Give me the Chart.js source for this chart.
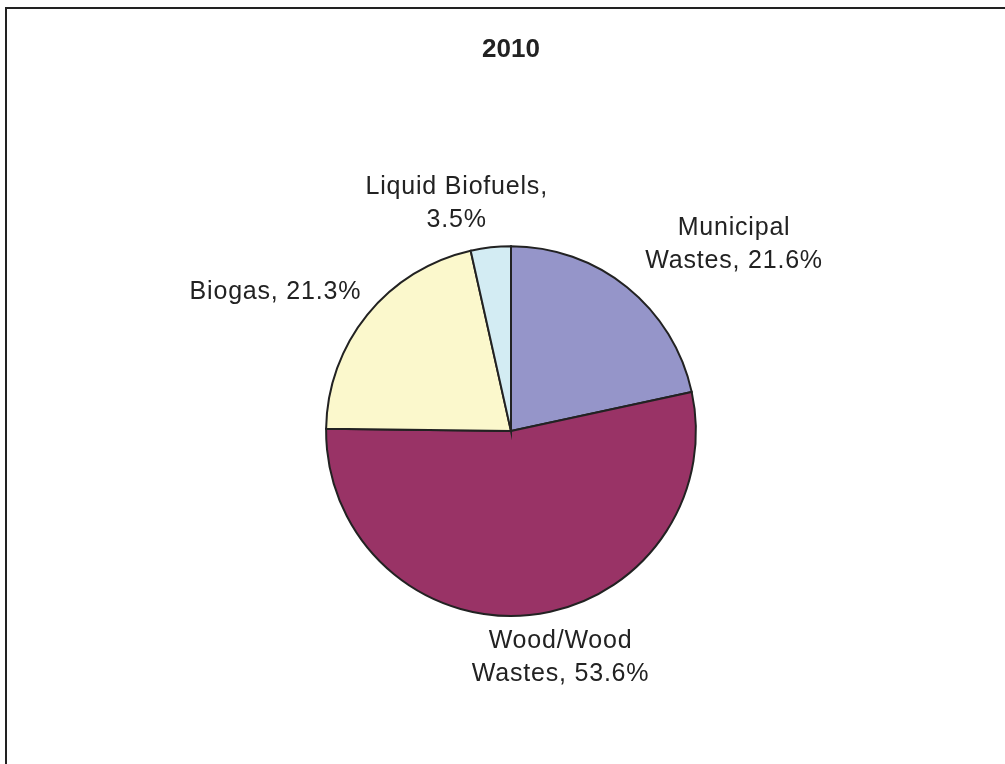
<!DOCTYPE html>
<html>
<head>
<meta charset="utf-8">
<title>2010</title>
<script src="https://cdn.jsdelivr.net/npm/chart.js@4/dist/chart.umd.min.js"></script>
<style>
  html, body { margin: 0; padding: 0; background: #fff; overflow: hidden; }
  #biomassChart { display: block; }
</style>
</head>
<body>
<canvas id="biomassChart" width="1005" height="764"></canvas>
<script>
// Biomass consumption shares, 2010
const chartTitle = '2010';
const sources = ['Municipal Wastes', 'Wood/Wood Wastes', 'Biogas', 'Liquid Biofuels'];
const shares = [21.6, 53.6, 21.3, 3.5];
// how each label is broken over lines
const labelLines = [
    ['Municipal', 'Wastes, 21.6%'],
    ['Wood/Wood', 'Wastes, 53.6%'],
    ['Biogas, 21.3%'],
    ['Liquid Biofuels,', '3.5%']
];

const sliceColors = ['#9595C9', '#993366', '#FBF8CC', '#D3ECF3'];
// nudge of each label block away from the slice's outer edge (px)
const labelShift = [[107, -43], [31, 43], [-92, -22], [-34, -44]];

const frame = {
    id: 'frame',
    beforeDraw(chart) {
        const ctx = chart.ctx;
        ctx.save();
        ctx.fillStyle = '#fff';
        ctx.fillRect(0, 0, chart.width, chart.height);
        ctx.strokeStyle = '#222';
        ctx.lineWidth = 2;
        ctx.strokeRect(6, 8, chart.width + 40, chart.height + 40);
        ctx.restore();
    }
};

const outsideLabels = {
    id: 'outsideLabels',
    afterDatasetsDraw(chart) {
        const ctx = chart.ctx;
        const meta = chart.getDatasetMeta(0);
        ctx.save();
        ctx.font = '25px "Liberation Sans", Arial, sans-serif';
        ctx.letterSpacing = '0.8px';
        ctx.fillStyle = '#222';
        ctx.textAlign = 'center';
        ctx.textBaseline = 'middle';
        const lineH = 33;
        meta.data.forEach((arc, i) => {
            const p = arc.getProps(['x', 'y', 'startAngle', 'endAngle', 'outerRadius'], true);
            const mid = (p.startAngle + p.endAngle) / 2;
            const ax = p.x + Math.cos(mid) * p.outerRadius + labelShift[i][0];
            const ay = p.y + Math.sin(mid) * p.outerRadius + labelShift[i][1];
            const lines = labelLines[i];
            const top = ay - (lines.length - 1) * lineH / 2;
            lines.forEach((t, k) => ctx.fillText(t, ax, top + k * lineH));
        });
        ctx.restore();
    }
};

new Chart(document.getElementById('biomassChart'), {
    type: 'pie',
    data: {
        labels: sources,
        datasets: [{
            data: shares,
            backgroundColor: sliceColors,
            borderColor: '#222',
            borderWidth: 2,
            borderJoinStyle: 'miter'
        }]
    },
    options: {
        responsive: false,
        animation: false,
        layout: { padding: { top: 20, bottom: 147, left: 325, right: 308 } },
        plugins: {
            legend: { display: false },
            tooltip: { enabled: false },
            title: {
                display: true,
                text: chartTitle,
                color: '#222',
                font: { family: '"Liberation Sans", Arial, sans-serif', size: 26, weight: 'bold' },
                padding: { top: 14, bottom: 180 }
            }
        }
    },
    plugins: [frame, outsideLabels]
});
</script>
</body>
</html>
